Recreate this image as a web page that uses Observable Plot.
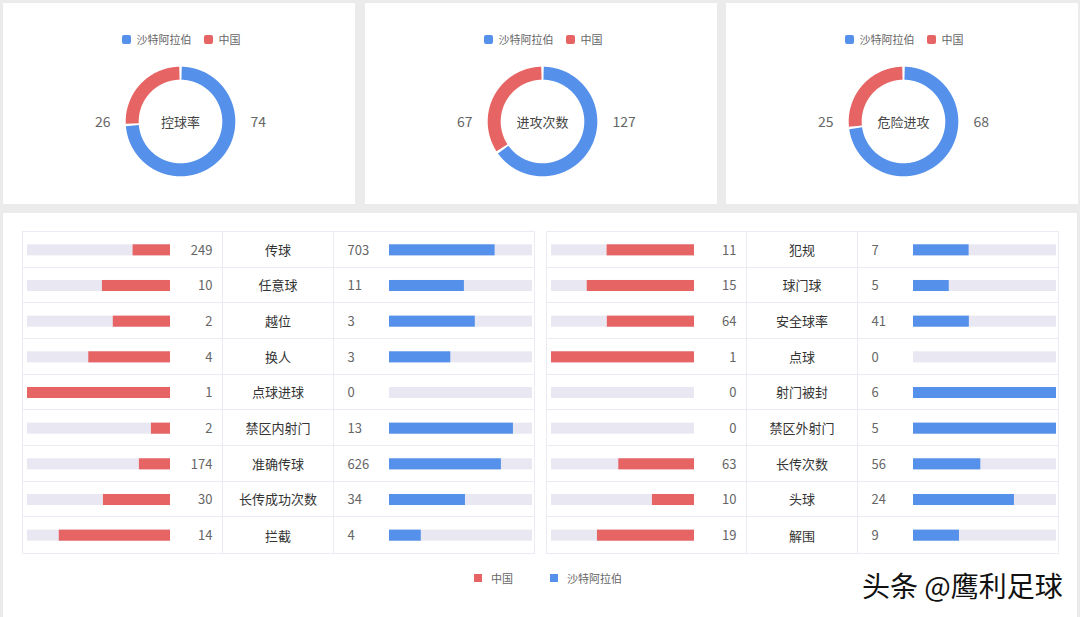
<!DOCTYPE html>
<html><head><meta charset="utf-8">
<script src="https://cdn.jsdelivr.net/npm/d3@7"></script>
<script src="https://cdn.jsdelivr.net/npm/@observablehq/plot@0.6"></script>
<style>
body{margin:0;background:#ebebeb;width:1080px;height:617px;overflow:hidden;position:relative;font-family:"Noto Sans CJK SC","Noto Sans",sans-serif}
.card{position:absolute;top:3px;width:352px;height:201px;background:#fff}
.card svg{position:absolute;left:0;top:0}
.legend{position:absolute;top:28px;left:0;width:100%;display:flex;justify-content:center;align-items:center;font-size:11px;color:#666;z-index:2;padding-left:4px;box-sizing:border-box}
.sw{width:9px;height:9px;border-radius:2px;display:inline-block;margin-right:6px}
.item{display:flex;align-items:center;margin:0 6px}
#panel{position:absolute;left:3px;top:213px;width:1074px;height:404px;background:#fff}
.tbl{position:absolute;top:231px;width:513px;height:323px;box-sizing:border-box;border:1px solid #ebebf3;display:grid;grid-template-columns:200px 111px 200px;grid-template-rows:repeat(9,1fr)}
.cell{border-right:1px solid #ebebf3;border-bottom:1px solid #ebebf3;display:flex;align-items:center;justify-content:center;font-size:13px;color:#333}
.cell.last{border-right:none}
.cell.bottom{border-bottom:none}
.tbl .plot{position:absolute;top:0}
#legend2{position:absolute;top:570px;left:474px;font-size:11px;color:#666;display:flex;align-items:center}
#legend2 .sq{width:8px;height:8px;display:inline-block;margin-right:9px}
#wm{position:absolute;left:862px;top:565px;font-size:28px;color:#111;white-space:nowrap;text-shadow:0 0 2px #fff,1px 1px 1px #fff,-1px -1px 1px #fff}
</style>
</head><body>
<div id="root"></div>
<script>
const teams = ["沙特阿拉伯", "中国"];
const teamColors = ["#5591ea", "#e66464"];
const trackColor = "#e9e8f2";

const donutTitles = ["控球率", "进攻次数", "危险进攻"];
const donutSaudi = [74, 127, 68];
const donutChina = [26, 67, 25];

const leftStats = ["传球", "任意球", "越位", "换人", "点球进球", "禁区内射门", "准确传球", "长传成功次数", "拦截"];
const leftChina = [249, 10, 2, 4, 1, 2, 174, 30, 14];
const leftSaudi = [703, 11, 3, 3, 0, 13, 626, 34, 4];

const rightStats = ["犯规", "球门球", "安全球率", "点球", "射门被封", "禁区外射门", "长传次数", "头球", "解围"];
const rightChina = [11, 15, 64, 1, 0, 0, 63, 10, 19];
const rightSaudi = [7, 5, 41, 0, 6, 5, 56, 24, 9];

const legendOrder = ["中国", "沙特阿拉伯"];
const watermark = "头条 @鹰利足球";

const FONT = '"Noto Sans CJK SC","Noto Sans",sans-serif';
const root = document.body;

function colorOf(t){ return teamColors[teams.indexOf(t)]; }

// ---------- donuts ----------
const cardLefts = [3, 365, 726];
donutTitles.forEach((title, i) => {
  const card = document.createElement("div");
  card.className = "card";
  card.style.left = cardLefts[i] + "px";
  const lg = document.createElement("div");
  lg.className = "legend";
  teams.forEach(t => {
    const it = document.createElement("span");
    it.className = "item";
    it.innerHTML = `<span class="sw" style="background:${colorOf(t)}"></span>${t}`;
    lg.appendChild(it);
  });
  card.appendChild(lg);

  const W = 352, H = 201, cx = 177, cy = 118, R = 48.3, thick = 13;
  const slices = [{team: teams[0], v: donutSaudi[i]}, {team: teams[1], v: donutChina[i]}];
  const total = d3.sum(slices, d => d.v);
  const pad = 1.1 / R;
  const pts = [];
  let a = 0;
  for (const s of slices) {
    const a0 = a, a1 = a + s.v / total * 2 * Math.PI; a = a1;
    const n = Math.max(2, Math.ceil((a1 - a0) / 0.01));
    for (let k = 0; k <= n; k++) {
      const t = a0 + pad + (a1 - a0 - 2 * pad) * k / n;
      pts.push({team: s.team, x: R * Math.sin(t), y: -R * Math.cos(t)});
    }
  }
  const labels = [{team: teams[1], v: donutChina[i]}, {team: teams[0], v: donutSaudi[i]}];
  const plot = Plot.plot({
    width: W, height: H, margin: 0,
    style: {fontFamily: FONT, background: "transparent"},
    x: {domain: [-cx, W - cx], range: [0, W], axis: null},
    y: {domain: [-cy, H - cy], range: [0, H], axis: null},
    color: {domain: teams, range: teamColors},
    marks: [
      Plot.line(pts, {x: "x", y: "y", z: "team", stroke: "team", strokeWidth: thick, strokeLinecap: "butt", strokeLinejoin: "round"}),
      Plot.text([labels[0]], {x: d => -70, y: d => 1, text: d => String(d.v), textAnchor: "end", fill: "#666", fontSize: 14}),
      Plot.text([labels[1]], {x: d => 70, y: d => 1, text: d => String(d.v), textAnchor: "start", fill: "#666", fontSize: 14}),
      Plot.text([title], {x: d => 0, y: d => 1, text: d => d, fill: "#444", fontSize: 13})
    ]
  });
  card.appendChild(plot);
  root.appendChild(card);
});

// ---------- panel ----------
const panel = document.createElement("div");
panel.id = "panel";
root.appendChild(panel);

function barPlot(stats, values, other, side) {
  const data = stats.map((s, i) => ({stat: s, v: values[i], share: values[i] / (values[i] + other[i])}));
  const left = side === "left";
  const fill = left ? teamColors[1] : teamColors[0];
  return Plot.plot({
    width: 200, height: 321, margin: 0,
    style: {fontFamily: FONT, background: "transparent"},
    x: {domain: [0, 1], range: left ? [147, 4] : [54, 197], axis: null},
    y: {domain: stats, range: [0, 321], paddingInner: 0.69, paddingOuter: 0.345, round: false, axis: null},
    marks: [
      Plot.barX(data, {y: "stat", x1: d => 0, x2: d => 1, fill: trackColor}),
      Plot.barX(data.filter(d => d.share > 0), {y: "stat", x1: d => 0, x2: "share", fill}),
      Plot.text(data, {y: "stat", x: d => 0, dx: left ? 42 : -42, text: d => String(d.v), textAnchor: left ? "end" : "start", fill: "#666", fontSize: 13})
    ]
  });
}

function buildTable(x, stats, china, saudi) {
  const tbl = document.createElement("div");
  tbl.className = "tbl";
  tbl.style.left = x + "px";
  stats.forEach((s, r) => {
    for (let c = 0; c < 3; c++) {
      const cell = document.createElement("div");
      cell.className = "cell" + (c === 2 ? " last" : "") + (r === stats.length - 1 ? " bottom" : "");
      if (c === 1) cell.textContent = s;
      tbl.appendChild(cell);
    }
  });
  const lp = barPlot(stats, china, saudi, "left");
  lp.classList.add("plot"); lp.style.left = "0px";
  const rp = barPlot(stats, saudi, china, "right");
  rp.classList.add("plot"); rp.style.left = "312px";
  tbl.appendChild(lp); tbl.appendChild(rp);
  root.appendChild(tbl);
}
buildTable(22, leftStats, leftChina, leftSaudi);
buildTable(546, rightStats, rightChina, rightSaudi);

// bottom legend
const lg2 = document.createElement("div");
lg2.id = "legend2";
lg2.innerHTML = legendOrder.map((t, k) =>
  `<span class="sq" style="background:${colorOf(t)}"></span><span style="margin-right:${k === 0 ? 37 : 0}px">${t}</span>`).join("");
root.appendChild(lg2);

const wm = document.createElement("div");
wm.id = "wm";
wm.textContent = watermark;
root.appendChild(wm);
</script>
</body></html>
